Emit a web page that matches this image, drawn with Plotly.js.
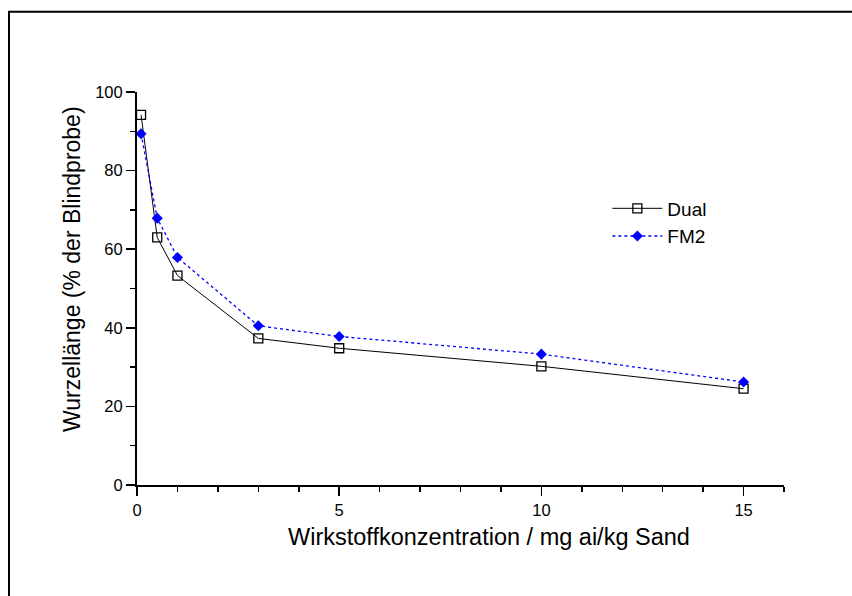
<!DOCTYPE html>
<html>
<head>
<meta charset="utf-8">
<script src="https://cdn.plot.ly/plotly-3.0.1.min.js"></script>
<style>html,body{margin:0;padding:0;background:#fff;}#chart{width:852px;height:596px;}</style>
</head>
<body>
<div id="chart"></div>
<script>
const concentration = [0.1, 0.5, 1, 3, 5, 10, 15];
const dualValues = [94.2, 63.0, 53.3, 37.3, 34.8, 30.2, 24.5];
const fm2Values = [89.4, 67.9, 57.9, 40.5, 37.8, 33.3, 26.2];
const seriesNames = ["Dual", "FM2"];
const xTitle = "Wirkstoffkonzentration / mg ai/kg Sand";
const yTitle = "Wurzellänge (% der Blindprobe)";

const FONT = "Arial, 'Liberation Sans', sans-serif";

const traces = [
  {
    x: concentration, y: dualValues, name: seriesNames[0],
    type: "scatter", mode: "lines+markers",
    line: {color: "#000000", width: 1, dash: "solid"},
    marker: {symbol: "square-open", size: 9, color: "#000000", line: {width: 1.3, color: "#000000"}}
  },
  {
    x: concentration, y: fm2Values, name: seriesNames[1],
    type: "scatter", mode: "lines+markers",
    line: {color: "#0000ff", width: 1.3, dash: "dot"},
    marker: {symbol: "diamond", size: 8.5, color: "#0000ff"}
  }
];

const axisCommon = {
  showgrid: false, zeroline: false, showline: true, linecolor: "#000", linewidth: 2,
  ticks: "outside", ticklen: 9, tickwidth: 1.5, tickcolor: "#000",
  tickfont: {family: FONT, size: 16.5, color: "#000"},
  mirror: false
};

const layout = {
  width: 852, height: 596,
  margin: {l: 137, r: 68, t: 92, b: 111},
  paper_bgcolor: "#fff", plot_bgcolor: "#fff",
  showlegend: true,
  legend: {
    x: 0.727, y: 0.752, xanchor: "left", yanchor: "top",
    font: {family: FONT, size: 19, color: "#000"},
    bgcolor: "rgba(0,0,0,0)", itemwidth: 50, tracegroupgap: 4
  },
  xaxis: Object.assign({}, axisCommon, {
    range: [0, 16], tickmode: "linear", tick0: 0, dtick: 5,
    minor: {dtick: 1, tick0: 0, ticks: "outside", ticklen: 5, tickwidth: 1.5, tickcolor: "#000", showgrid: false}
  }),
  yaxis: Object.assign({}, axisCommon, {
    range: [0, 100], tickmode: "linear", tick0: 0, dtick: 20,
    minor: {dtick: 10, tick0: 0, ticks: "outside", ticklen: 5, tickwidth: 1.5, tickcolor: "#000", showgrid: false}
  }),
  annotations: [
    {text: xTitle, xref: "paper", yref: "paper", x: (489 - 137) / 647, y: (485 - 537) / 393,
     xanchor: "center", yanchor: "middle", showarrow: false,
     font: {family: FONT, size: 23.5, color: "#000"}},
    {text: yTitle, xref: "paper", yref: "paper", x: (72 - 137) / 647, y: (485 - 269) / 393,
     xanchor: "center", yanchor: "middle", showarrow: false, textangle: -90,
     font: {family: FONT, size: 23, color: "#000"}}
  ],
  shapes: [
    {type: "rect", xref: "paper", yref: "paper",
     x0: (9 - 137) / 647, x1: (870 - 137) / 647,
     y0: (485 - 620) / 393, y1: (485 - 11.7) / 393,
     line: {color: "#000", width: 2}, fillcolor: "rgba(0,0,0,0)", layer: "below"}
  ]
};

Plotly.newPlot("chart", traces, layout, {displayModeBar: false, staticPlot: true});
</script>
</body>
</html>
